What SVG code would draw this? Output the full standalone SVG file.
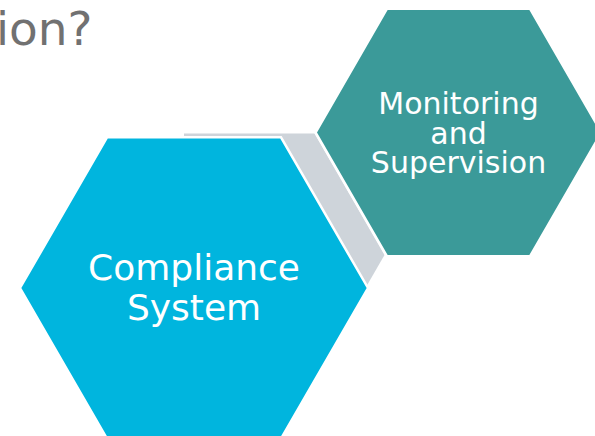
<svg xmlns="http://www.w3.org/2000/svg" width="595" height="436" viewBox="0 0 595 436">
  <style>
    .hex { stroke: #FFFFFF; stroke-width: 2.5; stroke-linejoin: miter; }
    .lbl { font-family: "DejaVu Sans", Verdana, sans-serif; fill: #FFFFFF; text-anchor: middle; }
    .title { font-family: "DejaVu Sans", Verdana, sans-serif; fill: #717171; font-size: 47px; }
  </style>
  <rect width="595" height="436" fill="#FFFFFF"/>
  <g id="title">
    <text class="title" x="-4" y="45">ion?</text>
  </g>
  <g id="connectors">
    <polygon points="184,133.5 314.5,133.5 384.5,255 362,294 184,294" fill="#CED4DA"/>
  </g>
  <g id="node-compliance">
    <polygon class="hex" fill="#00B5DE" points="20,288 107,137.3 281,137.3 368,288 281,438.7 107,438.7"/>
    <text class="lbl" font-size="36" x="194" y="280">Compliance</text>
    <text class="lbl" font-size="36" x="194" y="320">System</text>
  </g>
  <g id="node-monitoring">
    <polygon class="hex" fill="#3B9A99" points="315.5,132.5 387,8.7 530,8.7 601.5,132.5 530,256.3 387,256.3"/>
    <text class="lbl" font-size="30" x="458.5" y="113.5">Monitoring</text>
    <text class="lbl" font-size="30" x="458.5" y="143.5">and</text>
    <text class="lbl" font-size="30" x="458.5" y="173">Supervision</text>
  </g>
</svg>
